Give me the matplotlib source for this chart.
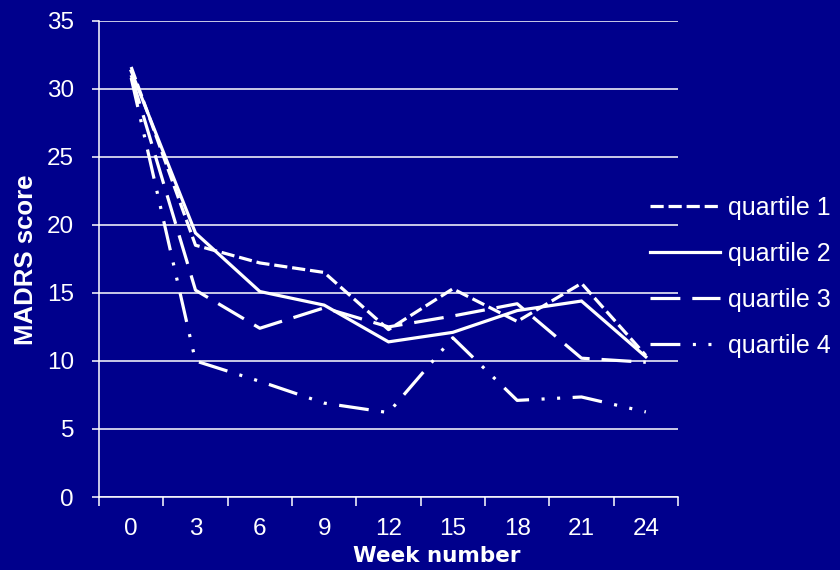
import matplotlib
matplotlib.use("Agg")
import matplotlib.pyplot as plt
import numpy as np

# MADRS score by week, one series per baseline quartile
weeks = [0, 3, 6, 9, 12, 15, 18, 21, 24]
quartile_1 = [31.6, 18.5, 17.2, 16.5, 12.3, 15.3, 12.9, 15.7, 10.4]
quartile_2 = [31.3, 19.4, 15.1, 14.1, 11.4, 12.1, 13.7, 14.4, 10.3]
quartile_3 = [31.0, 15.2, 12.4, 13.9, 12.5, 13.3, 14.2, 10.2, 9.9]
quartile_4 = [30.8, 10.0, 8.5, 6.9, 6.2, 11.7, 7.1, 7.35, 6.25]
series_labels = ["quartile 1", "quartile 2", "quartile 3", "quartile 4"]
y_ticks = [0, 5, 10, 15, 20, 25, 30, 35]

BG = "#00008C"
FG = "white"

plt.rcParams["lines.scale_dashes"] = False
plt.rcParams["font.family"] = ["Liberation Sans", "DejaVu Sans"]

fig = plt.figure(figsize=(8.4, 5.7), dpi=100, facecolor=BG)
ax = fig.add_axes([99 / 840, 1 - 497 / 570, (678 - 99) / 840, (497 - 20.7) / 570])
ax.set_facecolor(BG)

styles = [
    dict(linestyle=(0, (9.5, 3.5))),
    dict(linestyle="-"),
    dict(linestyle=(0, (21.5, 8.6))),
    dict(linestyle=(0, (21.5, 9.0, 2.2, 9.0, 2.2, 9.0))),
]
series = [quartile_1, quartile_2, quartile_3, quartile_4]
handles = []
for vals, st, lab in zip(series, styles, series_labels):
    (ln,) = ax.plot(weeks, vals, color=FG, lw=2.3, dash_capstyle="butt",
                    solid_joinstyle="miter", label=lab, **st)
    handles.append(ln)

ax.set_xlim(-1.5, 25.5)
ax.set_ylim(0, 35)

# category boundaries carry the tick marks, category centres carry the labels
ax.set_xticks(np.arange(-1.5, 26, 3))
ax.set_xticklabels([])
ax.set_xticks(weeks, minor=True)
ax.set_xticklabels([str(w) for w in weeks], minor=True)
ax.tick_params(axis="x", which="major", direction="out", length=6.5, width=1.1, color=FG)
ax.tick_params(axis="x", which="minor", length=0, pad=15, labelsize=17.5, labelcolor=FG)

ax.set_yticks(y_ticks)
ax.set_yticklabels([str(v) for v in y_ticks])
ax.tick_params(axis="y", direction="out", length=5, width=1.1, color=FG, pad=13,
               labelsize=17.5, labelcolor=FG)

ax.grid(axis="y", color=FG, lw=1.1)
ax.set_axisbelow(True)
for side in ("top", "right"):
    ax.spines[side].set_visible(False)
for side in ("left", "bottom"):
    ax.spines[side].set_color(FG)
    ax.spines[side].set_linewidth(1.1)

fig.text(26 / 840, 1 - 260 / 570, "MADRS score", rotation=90, ha="center", va="center",
         color=FG, fontsize=18.5, fontweight="bold")
fig.text(437 / 840, 1 - 556 / 570, "Week number", ha="center", va="center",
         color=FG, fontsize=15.5, fontweight="bold", family="DejaVu Sans")

leg = fig.legend(handles=handles, loc="center left",
                 bbox_to_anchor=(650 / 840, 1 - 276.5 / 570),
                 frameon=False, fontsize=18, handlelength=2.8, handletextpad=0.32,
                 labelspacing=0.88, borderpad=0, borderaxespad=0)
for t in leg.get_texts():
    t.set_color(FG)

fig.savefig("out.png", dpi=100, facecolor=BG)
